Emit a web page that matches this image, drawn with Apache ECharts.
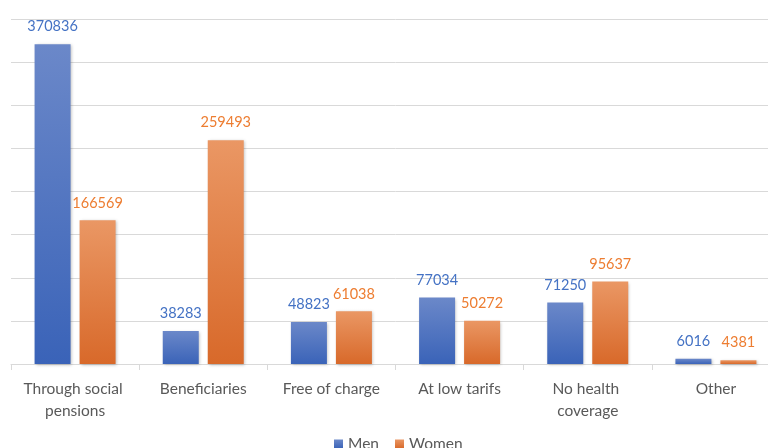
<!DOCTYPE html>
<html><head><meta charset="utf-8">
<script src="https://cdn.jsdelivr.net/npm/echarts@6/dist/echarts.min.js"></script>
<style>html,body{margin:0;padding:0;background:#fff;overflow:hidden;width:768px;height:448px}#c{width:800px;height:448px}</style>
</head><body><div id="c"></div>
<script>
const categories = ["Through social pensions", "Beneficiaries", "Free of charge", "At low tarifs", "No health coverage", "Other"];
const men = [370836, 38283, 48823, 77034, 71250, 6016];
const women = [166569, 259493, 61038, 50272, 95637, 4381];
const seriesNames = ["Men", "Women"];

const chart = echarts.init(document.getElementById('c'), null, {renderer: 'canvas'});
const font = 'Lato, "Open Sans", sans-serif';
function grad(top, bottom) {
  return new echarts.graphic.LinearGradient(0, 0, 0, 1, [{offset: 0, color: top}, {offset: 1, color: bottom}]);
}
chart.setOption({
  animation: false,
  backgroundColor: '#fff',
  grid: {left: 11, top: 19, bottom: 84, width: 769},
  legend: {
    data: seriesNames, left: 329, top: 431, itemWidth: 9, itemHeight: 9, itemGap: 16,
    icon: 'rect',
    textStyle: {fontFamily: font, fontSize: 15.5, color: '#595959'}
  },
  xAxis: {
    type: 'category', data: categories,
    axisLine: {lineStyle: {color: '#d9d9d9', width: 1}},
    axisTick: {show: true, length: 6, lineStyle: {color: '#d9d9d9'}},
    axisLabel: {fontFamily: font, fontSize: 15.5, color: '#595959', margin: 14, width: 118, overflow: 'break', lineHeight: 22, interval: 0}
  },
  yAxis: {
    type: 'value', min: 0, max: 400000, interval: 50000,
    axisLabel: {show: false}, axisLine: {show: false}, axisTick: {show: false},
    splitLine: {lineStyle: {color: '#d9d9d9', width: 1}}
  },
  series: [
    {name: seriesNames[0], type: 'bar', data: men, barWidth: 36, barGap: '25%',
     itemStyle: {color: grad('#6b88c9', '#3a63b8'), shadowColor: 'rgba(0,0,0,0.25)', shadowBlur: 3, shadowOffsetX: 1, shadowOffsetY: 1},
     label: {show: true, position: 'top', distance: 10, fontFamily: font, fontSize: 14.5, color: '#4472c4'}},
    {name: seriesNames[1], type: 'bar', data: women, barWidth: 36,
     itemStyle: {color: grad('#ea9764', '#d8692a'), shadowColor: 'rgba(0,0,0,0.25)', shadowBlur: 3, shadowOffsetX: 1, shadowOffsetY: 1},
     label: {show: true, position: 'top', distance: 10, fontFamily: font, fontSize: 14.5, color: '#ed7d31'}}
  ]
});
</script></body></html>
